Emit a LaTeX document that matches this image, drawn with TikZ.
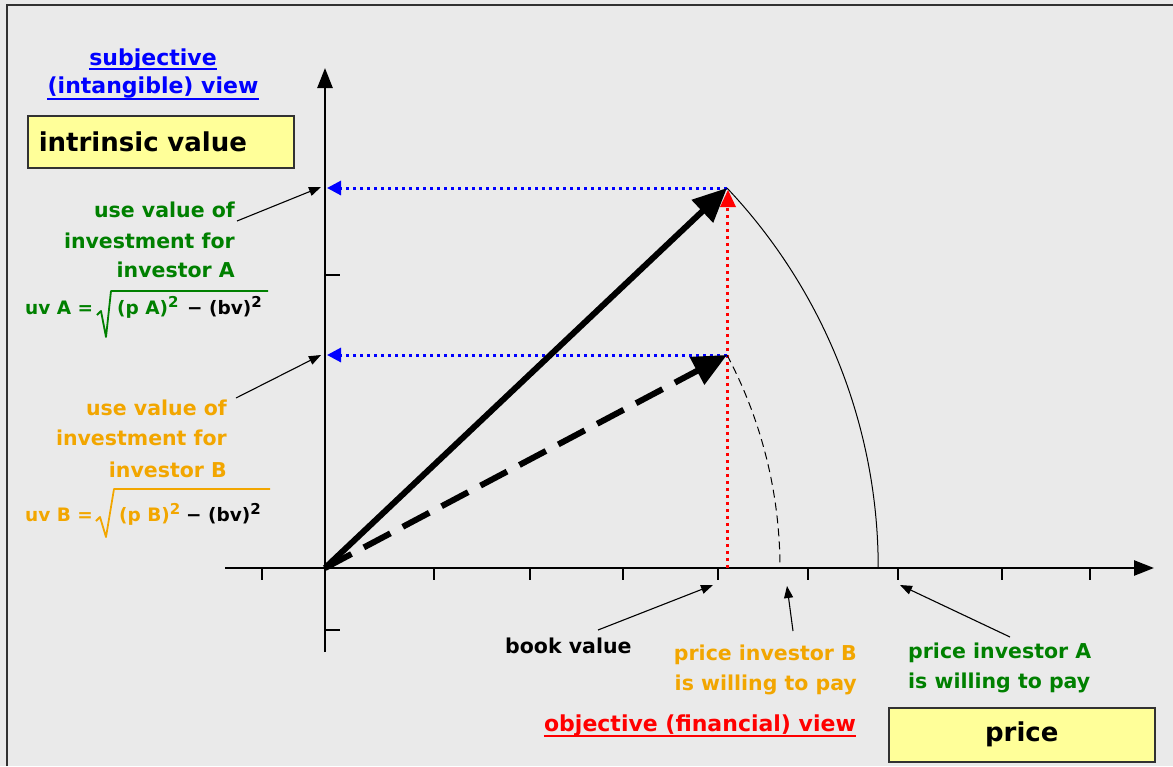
\documentclass[tikz,border=0pt]{standalone}
\usepackage{fontspec}
\setmainfont{DejaVu Sans}
\usetikzlibrary{arrows.meta}
\definecolor{bg}{RGB}{234,234,234}
\definecolor{grn}{RGB}{0,128,0}
\definecolor{org}{RGB}{242,166,0}
\definecolor{ylw}{RGB}{255,255,153}
\definecolor{frame}{RGB}{50,50,50}
\newcommand{\sqtwo}{\raisebox{7pt}{\fontsize{15}{18}\selectfont 2}}
\begin{document}
\begin{tikzpicture}[x=1pt,y=-1pt,
  lbl/.style={inner sep=0pt, font=\fontsize{20.5}{24}\selectfont\bfseries},
  head/.style={inner sep=0pt, font=\fontsize{22}{26}\selectfont\bfseries},
  frm/.style={inner sep=0pt, font=\fontsize{18.5}{22}\selectfont\bfseries},
  ybox/.style={draw=frame, line width=1.6pt, fill=ylw, minimum height=52pt,
    font=\fontsize{26}{30}\selectfont\bfseries},
  axisline/.style={line width=2.6pt, -{Triangle[length=20pt,width=15pt]}},
  tickmark/.style={line width=1.4pt},
  vec/.style={line width=6pt, -{Triangle[length=34pt,width=30pt]}},
  bluedot/.style={blue, line width=3pt, dash pattern=on 3pt off 4pt,
    -{Triangle[length=14pt,width=14pt]}},
  reddot/.style={red, line width=3pt, dash pattern=on 3pt off 4pt},
  note/.style={line width=1.1pt, -{Triangle[length=12pt,width=9pt]}},
  radical/.style={line width=1.8pt, line join=round}
]
\fill[bg] (0,0) rectangle (1173,766);
\useasboundingbox (0,0) rectangle (1173,766);
\draw[frame, line width=2.2pt] (7,766) -- (7,5) -- (1173,5);

% coordinates
\coordinate (O) at (325,568);
\coordinate (Ytop) at (325,68);
\coordinate (Ybot) at (325,652);
\coordinate (Xl) at (225,568);
\coordinate (Xr) at (1154,568);
\coordinate (A) at (727,188);
\coordinate (B) at (727,355);
\coordinate (YA) at (327,188);
\coordinate (YB) at (327,355);
\coordinate (XA) at (727,568);

% axes
\draw[axisline] (Ybot) -- (Ytop);
\draw[axisline] (Xl) -- (Xr);
\foreach \t in {262,434,530,623,718,808,898,1002,1090}
  \draw[tickmark] (\t,568) -- (\t,580);
\foreach \t in {275,630}
  \draw[tickmark] (325,\t) -- (340,\t);

% projections
\draw[reddot] (XA) -- (727,206);
\draw[bluedot] (A) -- (YA);
\draw[bluedot] (B) -- (YB);

% arcs
\draw[line width=1pt] (A) arc[start angle=-43.39, end angle=0, radius=553.2];
\draw[line width=1pt, dash pattern=on 8pt off 5pt] (B) arc[start angle=-27.92, end angle=0, radius=454.9];

% vectors
\draw[vec] (O) -- (A);
\draw[vec, dash pattern=on 30pt off 14pt] (O) -- (B);
\fill[red] (720,207) -- (736,207) -- (728,190) -- cycle;

% titles and boxes
\node[head, blue, anchor=base] (subj1) at (153,65) {subjective};
\node[head, blue, anchor=base] (subj2) at (153,93) {(intangible) view};
\draw[blue, line width=1.8pt] ([yshift=-4pt]subj1.base west) -- ([yshift=-4pt]subj1.base east);
\draw[blue, line width=1.8pt] ([yshift=-6pt]subj2.base west) -- ([yshift=-6pt]subj2.base east);
\node[ybox, anchor=north west, text width=244pt, inner xsep=11pt, align=left] (ivbox) at (27,115) {intrinsic value};
\node[ybox, anchor=north west, minimum width=266pt, minimum height=54pt] (pbox) at (888,707) {price};

% investor A label
\node[lbl, grn, anchor=base east] (ua1) at (235,217) {use value of};
\node[lbl, grn, anchor=base east] (ua2) at (235,248) {investment for};
\node[lbl, grn, anchor=base east] (ua3) at (235,277) {investor A};
\coordinate (ua) at (237,221);
\draw[note] (ua) -- (321,187);

\node[frm, grn, anchor=base west] (fa1) at (25,314) {uv A =};
\draw[grn, radical] (97,315) -- (101,311) -- (106,337) -- (111,291) -- (268,291);
\node[frm, grn, anchor=base west] (fa2) at (117,314) {(p A)\sqtwo};
\node[frm, black, anchor=base west] (fa3) at (187,314) {− (bv)\sqtwo};

% investor B label
\node[lbl, org, anchor=base east] (ub1) at (227,415) {use value of};
\node[lbl, org, anchor=base east] (ub2) at (227,445) {investment for};
\node[lbl, org, anchor=base east] (ub3) at (227,477) {investor B};
\coordinate (ub) at (236,398);
\draw[note] (ub) -- (321,355);

\node[frm, org, anchor=base west] (fb1) at (25,521) {uv B =};
\draw[org, radical] (96,521) -- (100,517) -- (106,537) -- (114,489) -- (270,489);
\node[frm, org, anchor=base west] (fb2) at (119,521) {(p B)\sqtwo};
\node[frm, black, anchor=base west] (fb3) at (186,521) {− (bv)\sqtwo};

% bottom labels
\node[lbl, black, anchor=base west] (bv) at (505,653) {book value};
\coordinate (bvs) at (598,630);
\draw[note] (bvs) -- (713,585);

\node[lbl, org, anchor=base east] (pb1) at (857,660) {price investor B};
\node[lbl, org, anchor=base east] (pb2) at (857,690) {is willing to pay};
\coordinate (pbs) at (793,631);
\draw[note] (pbs) -- (787,586);

\node[lbl, grn, anchor=base west] (pa1) at (908,658) {price investor A};
\node[lbl, grn, anchor=base west] (pa2) at (908,688) {is willing to pay};
\coordinate (pas) at (1010,637);
\draw[note] (pas) -- (900,585);

\node[head, red, anchor=base east] (obj) at (856,731) {objective (financial) view};
\draw[red, line width=1.8pt] ([yshift=-5pt]obj.base west) -- ([yshift=-5pt]obj.base east);
\end{tikzpicture}
\end{document}
